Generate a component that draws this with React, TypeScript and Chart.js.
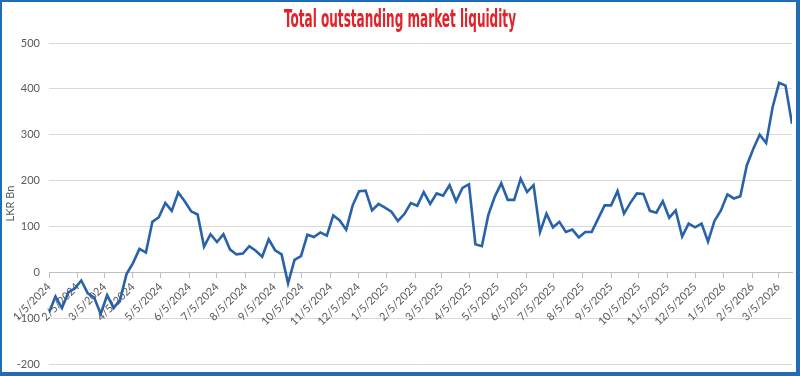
import React, { useEffect, useRef } from "react";
import { Chart, registerables } from "chart.js";

Chart.register(...registerables);

const TITLE = "Total outstanding market liquidity";
const Y_TITLE = "LKR Bn";
const SERIES_START = "1/5/2024";
const WEEK_DAYS = 7;

const tickLabels = [
  "1/5/2024", "2/5/2024", "3/5/2024", "4/5/2024", "5/5/2024", "6/5/2024",
  "7/5/2024", "8/5/2024", "9/5/2024", "10/5/2024", "11/5/2024", "12/5/2024",
  "1/5/2025", "2/5/2025", "3/5/2025", "4/5/2025", "5/5/2025", "6/5/2025",
  "7/5/2025", "8/5/2025", "9/5/2025", "10/5/2025", "11/5/2025", "12/5/2025",
  "1/5/2026", "2/5/2026", "3/5/2026",
];

// weekly values, LKR Bn, starting 1/5/2024
const liquidity = [
  -88, -53, -78, -44, -35, -18, -46, -55, -91, -50,
  -78, -60, -4, 20, 51, 43, 110, 120, 151, 134,
  174, 155, 133, 126, 56, 83, 66, 83, 50, 39,
  41, 57, 47, 34, 72, 48, 39, -24, 27, 35,
  82, 77, 87, 80, 124, 113, 93, 146, 177, 178,
  135, 149, 141, 132, 112, 127, 151, 145, 175, 149,
  172, 167, 190, 155, 184, 192, 61, 57, 125, 165,
  194, 158, 158, 204, 175, 190, 88, 128, 98, 110,
  88, 93, 76, 88, 88, 117, 146, 146, 177, 128,
  152, 172, 171, 134, 130, 155, 119, 135, 78, 106,
  98, 106, 67, 112, 135, 170, 161, 166, 233, 269,
  300, 282, 360, 413, 407, 324,
];

const yTicks = [-200, -100, 0, 100, 200, 300, 400, 500];

function toUTC(label: string): number {
  const [m, d, y] = label.split("/").map(Number);
  return Date.UTC(y, m - 1, d);
}
function dayOffset(label: string): number {
  return (toUTC(label) - toUTC(SERIES_START)) / 86400000;
}

const tickPositions = tickLabels.map(dayOffset);
const points = liquidity.map((v, i) => ({ x: i * WEEK_DAYS, y: v }));

const FONT_FAMILY = "Lato, 'Noto Sans', sans-serif";
const LABEL_COLOR = "#595959";

const titlePlugin = {
  id: "condensedTitle",
  afterDraw(chart: any) {
    const ctx = chart.ctx;
    ctx.save();
    ctx.font = "bold 24px 'Liberation Sans Narrow', 'DejaVu Sans Condensed', 'Liberation Sans', sans-serif";
    const w = ctx.measureText(TITLE).width;
    const target = 232;
    ctx.translate(chart.width / 2 + 1, 25);
    ctx.scale(target / w, 1);
    ctx.fillStyle = "#e3232a";
    ctx.textAlign = "center";
    ctx.textBaseline = "alphabetic";
    ctx.fillText(TITLE, 0, 0);
    ctx.restore();
  },
};

export default function App() {
  const ref = useRef<HTMLCanvasElement | null>(null);

  useEffect(() => {
    document.body.style.margin = "0";
    if (!ref.current) return;
    const chart = new Chart(ref.current, {
      type: "line",
      data: {
        datasets: [
          {
            data: points,
            borderColor: "#2862a8",
            borderWidth: 2.6,
            pointRadius: 0,
            tension: 0,
            fill: false,
          },
        ],
      },
      options: {
        animation: false,
        responsive: true,
        maintainAspectRatio: false,
        layout: { padding: { top: 41, right: 4, bottom: 8, left: 0 } },
        plugins: {
          legend: { display: false },
          tooltip: { enabled: false },
          title: { display: false },
        },
        scales: {
          x: {
            type: "linear",
            position: { y: 0 } as any,
            min: 0,
            max: (liquidity.length - 1) * WEEK_DAYS,
            afterBuildTicks: (s: any) => {
              s.ticks = tickPositions.map((v) => ({ value: v }));
            },
            grid: {
              drawOnChartArea: false,
              drawTicks: true,
              tickLength: 5,
              color: "#bfbfbf",
            },
            border: { display: true, color: "#bfbfbf" },
            ticks: {
              autoSkip: false,
              minRotation: 45,
              maxRotation: 45,
              padding: 3,
              color: LABEL_COLOR,
              font: { family: FONT_FAMILY, size: 11 },
              callback: (_v: any, i: number) => tickLabels[i],
            },
          },
          y: {
            type: "linear",
            min: -200,
            max: 500,
            afterBuildTicks: (s: any) => {
              s.ticks = yTicks.map((v) => ({ value: v }));
            },
            afterFit: (s: any) => {
              s.width = 47;
            },
            grid: {
              color: "#d9d9d9",
              drawTicks: true,
              tickLength: 9,
              tickColor: "rgba(0,0,0,0)",
            },
            border: { display: false },
            ticks: {
              padding: 0,
              color: LABEL_COLOR,
              font: { family: FONT_FAMILY, size: 11 },
            },
            title: {
              display: true,
              text: Y_TITLE,
              color: LABEL_COLOR,
              font: { family: FONT_FAMILY, size: 11 },
              padding: { top: 2, bottom: 0 },
            },
          },
        },
      },
      plugins: [titlePlugin],
    });
    return () => chart.destroy();
  }, []);

  return (
    <div
      style={{
        width: 800,
        height: 376,
        boxSizing: "border-box",
        borderStyle: "solid",
        borderColor: "#1f6db5",
        borderWidth: "2px 4px 4px 2px",
        background: "#ffffff",
      }}
    >
      <div style={{ position: "relative", width: 794, height: 370 }}>
        <canvas ref={ref} />
      </div>
    </div>
  );
}
